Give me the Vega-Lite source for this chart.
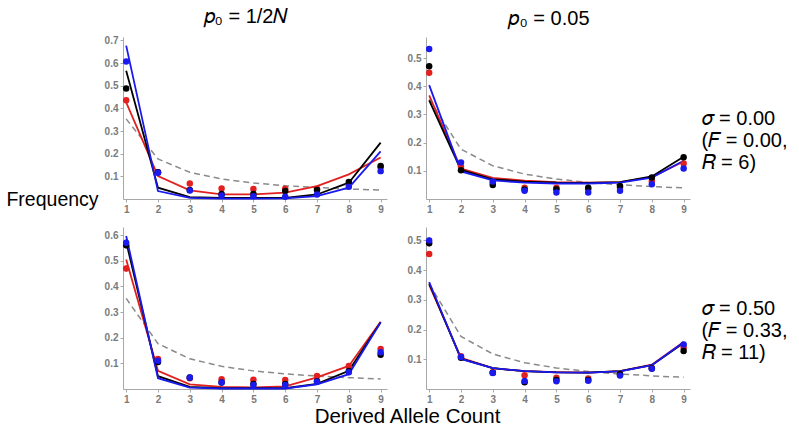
{
  "$schema": "https://vega.github.io/schema/vega-lite/v6.json",
  "padding": {"left": 5, "top": 7, "right": 0, "bottom": 0},
  "config": {
    "view": {"stroke": null},
    "font": "Liberation Sans, DejaVu Sans",
    "title": {"font": "Liberation Sans, DejaVu Sans", "fontSize": 20, "fontWeight": "normal", "color": "#000000"},
    "axis": {"grid": false, "domainColor": "#a8a8a8", "tickColor": "#a8a8a8", "labelColor": "#7a7a7a", "labelFont": "Liberation Sans", "labelFontWeight": "bold", "labelFontSize": 10, "tickSize": 3, "labelPadding": 2,
             "titleFont": "Liberation Sans, DejaVu Sans", "titleFontWeight": "normal", "titleColor": "#000000"}
  },
  "datasets": {
    "neutral": [
      {"k": 1, "v": 0.3535}, {"k": 2, "v": 0.1768}, {"k": 3, "v": 0.1178}, {"k": 4, "v": 0.0884}, {"k": 5, "v": 0.0707},
      {"k": 6, "v": 0.0589}, {"k": 7, "v": 0.0505}, {"k": 8, "v": 0.0442}, {"k": 9, "v": 0.0393}
    ],
    "model": [
      {"p": "a", "s": "red", "k": 1, "v": 0.426}, {"p": "a", "s": "red", "k": 2, "v": 0.101}, {"p": "a", "s": "red", "k": 3, "v": 0.038}, {"p": "a", "s": "red", "k": 4, "v": 0.02}, {"p": "a", "s": "red", "k": 5, "v": 0.02}, {"p": "a", "s": "red", "k": 6, "v": 0.028}, {"p": "a", "s": "red", "k": 7, "v": 0.057}, {"p": "a", "s": "red", "k": 8, "v": 0.109}, {"p": "a", "s": "red", "k": 9, "v": 0.183},
      {"p": "a", "s": "black", "k": 1, "v": 0.566}, {"p": "a", "s": "black", "k": 2, "v": 0.05}, {"p": "a", "s": "black", "k": 3, "v": 0.008}, {"p": "a", "s": "black", "k": 4, "v": 0.005}, {"p": "a", "s": "black", "k": 5, "v": 0.005}, {"p": "a", "s": "black", "k": 6, "v": 0.005}, {"p": "a", "s": "black", "k": 7, "v": 0.02}, {"p": "a", "s": "black", "k": 8, "v": 0.072}, {"p": "a", "s": "black", "k": 9, "v": 0.249},
      {"p": "a", "s": "blue", "k": 1, "v": 0.677}, {"p": "a", "s": "blue", "k": 2, "v": 0.035}, {"p": "a", "s": "blue", "k": 3, "v": 0.005}, {"p": "a", "s": "blue", "k": 4, "v": 0.002}, {"p": "a", "s": "blue", "k": 5, "v": 0.002}, {"p": "a", "s": "blue", "k": 6, "v": 0.003}, {"p": "a", "s": "blue", "k": 7, "v": 0.013}, {"p": "a", "s": "blue", "k": 8, "v": 0.05}, {"p": "a", "s": "blue", "k": 9, "v": 0.21},
      {"p": "b", "s": "red", "k": 1, "v": 0.368}, {"p": "b", "s": "red", "k": 2, "v": 0.108}, {"p": "b", "s": "red", "k": 3, "v": 0.075}, {"p": "b", "s": "red", "k": 4, "v": 0.065}, {"p": "b", "s": "red", "k": 5, "v": 0.06}, {"p": "b", "s": "red", "k": 6, "v": 0.058}, {"p": "b", "s": "red", "k": 7, "v": 0.06}, {"p": "b", "s": "red", "k": 8, "v": 0.078}, {"p": "b", "s": "red", "k": 9, "v": 0.133},
      {"p": "b", "s": "black", "k": 1, "v": 0.35}, {"p": "b", "s": "black", "k": 2, "v": 0.103}, {"p": "b", "s": "black", "k": 3, "v": 0.07}, {"p": "b", "s": "black", "k": 4, "v": 0.062}, {"p": "b", "s": "black", "k": 5, "v": 0.058}, {"p": "b", "s": "black", "k": 6, "v": 0.057}, {"p": "b", "s": "black", "k": 7, "v": 0.06}, {"p": "b", "s": "black", "k": 8, "v": 0.08}, {"p": "b", "s": "black", "k": 9, "v": 0.15},
      {"p": "b", "s": "blue", "k": 1, "v": 0.404}, {"p": "b", "s": "blue", "k": 2, "v": 0.098}, {"p": "b", "s": "blue", "k": 3, "v": 0.066}, {"p": "b", "s": "blue", "k": 4, "v": 0.058}, {"p": "b", "s": "blue", "k": 5, "v": 0.055}, {"p": "b", "s": "blue", "k": 6, "v": 0.055}, {"p": "b", "s": "blue", "k": 7, "v": 0.058}, {"p": "b", "s": "blue", "k": 8, "v": 0.076}, {"p": "b", "s": "blue", "k": 9, "v": 0.136},
      {"p": "c", "s": "red", "k": 1, "v": 0.505}, {"p": "c", "s": "red", "k": 2, "v": 0.071}, {"p": "c", "s": "red", "k": 3, "v": 0.018}, {"p": "c", "s": "red", "k": 4, "v": 0.008}, {"p": "c", "s": "red", "k": 5, "v": 0.006}, {"p": "c", "s": "red", "k": 6, "v": 0.01}, {"p": "c", "s": "red", "k": 7, "v": 0.045}, {"p": "c", "s": "red", "k": 8, "v": 0.09}, {"p": "c", "s": "red", "k": 9, "v": 0.262},
      {"p": "c", "s": "black", "k": 1, "v": 0.574}, {"p": "c", "s": "black", "k": 2, "v": 0.05}, {"p": "c", "s": "black", "k": 3, "v": 0.008}, {"p": "c", "s": "black", "k": 4, "v": 0.003}, {"p": "c", "s": "black", "k": 5, "v": 0.003}, {"p": "c", "s": "black", "k": 6, "v": 0.003}, {"p": "c", "s": "black", "k": 7, "v": 0.02}, {"p": "c", "s": "black", "k": 8, "v": 0.071}, {"p": "c", "s": "black", "k": 9, "v": 0.26},
      {"p": "c", "s": "blue", "k": 1, "v": 0.597}, {"p": "c", "s": "blue", "k": 2, "v": 0.042}, {"p": "c", "s": "blue", "k": 3, "v": 0.005}, {"p": "c", "s": "blue", "k": 4, "v": 0.002}, {"p": "c", "s": "blue", "k": 5, "v": 0.002}, {"p": "c", "s": "blue", "k": 6, "v": 0.002}, {"p": "c", "s": "blue", "k": 7, "v": 0.018}, {"p": "c", "s": "blue", "k": 8, "v": 0.058}, {"p": "c", "s": "blue", "k": 9, "v": 0.26},
      {"p": "d", "s": "red", "k": 1, "v": 0.35}, {"p": "d", "s": "red", "k": 2, "v": 0.105}, {"p": "d", "s": "red", "k": 3, "v": 0.07}, {"p": "d", "s": "red", "k": 4, "v": 0.06}, {"p": "d", "s": "red", "k": 5, "v": 0.057}, {"p": "d", "s": "red", "k": 6, "v": 0.055}, {"p": "d", "s": "red", "k": 7, "v": 0.06}, {"p": "d", "s": "red", "k": 8, "v": 0.082}, {"p": "d", "s": "red", "k": 9, "v": 0.158},
      {"p": "d", "s": "black", "k": 1, "v": 0.355}, {"p": "d", "s": "black", "k": 2, "v": 0.102}, {"p": "d", "s": "black", "k": 3, "v": 0.07}, {"p": "d", "s": "black", "k": 4, "v": 0.06}, {"p": "d", "s": "black", "k": 5, "v": 0.056}, {"p": "d", "s": "black", "k": 6, "v": 0.055}, {"p": "d", "s": "black", "k": 7, "v": 0.06}, {"p": "d", "s": "black", "k": 8, "v": 0.08}, {"p": "d", "s": "black", "k": 9, "v": 0.155},
      {"p": "d", "s": "blue", "k": 1, "v": 0.36}, {"p": "d", "s": "blue", "k": 2, "v": 0.101}, {"p": "d", "s": "blue", "k": 3, "v": 0.07}, {"p": "d", "s": "blue", "k": 4, "v": 0.06}, {"p": "d", "s": "blue", "k": 5, "v": 0.056}, {"p": "d", "s": "blue", "k": 6, "v": 0.055}, {"p": "d", "s": "blue", "k": 7, "v": 0.059}, {"p": "d", "s": "blue", "k": 8, "v": 0.08}, {"p": "d", "s": "blue", "k": 9, "v": 0.157}
    ],
    "obs": [
      {"p": "a", "s": "red", "k": 1, "v": 0.436, "e": 0.01}, {"p": "a", "s": "red", "k": 2, "v": 0.118, "e": 0.007}, {"p": "a", "s": "red", "k": 3, "v": 0.068, "e": 0.006}, {"p": "a", "s": "red", "k": 4, "v": 0.046, "e": 0.006}, {"p": "a", "s": "red", "k": 5, "v": 0.044, "e": 0.006}, {"p": "a", "s": "red", "k": 6, "v": 0.045, "e": 0.006}, {"p": "a", "s": "red", "k": 7, "v": 0.045, "e": 0.006}, {"p": "a", "s": "red", "k": 8, "v": 0.065, "e": 0.006}, {"p": "a", "s": "red", "k": 9, "v": 0.14, "e": 0.008},
      {"p": "a", "s": "black", "k": 1, "v": 0.488, "e": 0.01}, {"p": "a", "s": "black", "k": 2, "v": 0.118, "e": 0.007}, {"p": "a", "s": "black", "k": 3, "v": 0.04, "e": 0.006}, {"p": "a", "s": "black", "k": 4, "v": 0.022, "e": 0.006}, {"p": "a", "s": "black", "k": 5, "v": 0.022, "e": 0.006}, {"p": "a", "s": "black", "k": 6, "v": 0.035, "e": 0.006}, {"p": "a", "s": "black", "k": 7, "v": 0.04, "e": 0.006}, {"p": "a", "s": "black", "k": 8, "v": 0.075, "e": 0.006}, {"p": "a", "s": "black", "k": 9, "v": 0.146, "e": 0.008},
      {"p": "a", "s": "blue", "k": 1, "v": 0.607, "e": 0.01}, {"p": "a", "s": "blue", "k": 2, "v": 0.116, "e": 0.007}, {"p": "a", "s": "blue", "k": 3, "v": 0.038, "e": 0.006}, {"p": "a", "s": "blue", "k": 4, "v": 0.016, "e": 0.006}, {"p": "a", "s": "blue", "k": 5, "v": 0.012, "e": 0.006}, {"p": "a", "s": "blue", "k": 6, "v": 0.01, "e": 0.006}, {"p": "a", "s": "blue", "k": 7, "v": 0.02, "e": 0.006}, {"p": "a", "s": "blue", "k": 8, "v": 0.054, "e": 0.006}, {"p": "a", "s": "blue", "k": 9, "v": 0.123, "e": 0.008},
      {"p": "b", "s": "red", "k": 1, "v": 0.448, "e": 0.01}, {"p": "b", "s": "red", "k": 2, "v": 0.115, "e": 0.007}, {"p": "b", "s": "red", "k": 3, "v": 0.058, "e": 0.006}, {"p": "b", "s": "red", "k": 4, "v": 0.04, "e": 0.006}, {"p": "b", "s": "red", "k": 5, "v": 0.04, "e": 0.006}, {"p": "b", "s": "red", "k": 6, "v": 0.035, "e": 0.006}, {"p": "b", "s": "red", "k": 7, "v": 0.04, "e": 0.006}, {"p": "b", "s": "red", "k": 8, "v": 0.064, "e": 0.006}, {"p": "b", "s": "red", "k": 9, "v": 0.126, "e": 0.008},
      {"p": "b", "s": "black", "k": 1, "v": 0.471, "e": 0.01}, {"p": "b", "s": "black", "k": 2, "v": 0.102, "e": 0.007}, {"p": "b", "s": "black", "k": 3, "v": 0.05, "e": 0.006}, {"p": "b", "s": "black", "k": 4, "v": 0.034, "e": 0.006}, {"p": "b", "s": "black", "k": 5, "v": 0.035, "e": 0.006}, {"p": "b", "s": "black", "k": 6, "v": 0.04, "e": 0.006}, {"p": "b", "s": "black", "k": 7, "v": 0.046, "e": 0.006}, {"p": "b", "s": "black", "k": 8, "v": 0.076, "e": 0.006}, {"p": "b", "s": "black", "k": 9, "v": 0.148, "e": 0.008},
      {"p": "b", "s": "blue", "k": 1, "v": 0.532, "e": 0.01}, {"p": "b", "s": "blue", "k": 2, "v": 0.13, "e": 0.007}, {"p": "b", "s": "blue", "k": 3, "v": 0.062, "e": 0.006}, {"p": "b", "s": "blue", "k": 4, "v": 0.029, "e": 0.006}, {"p": "b", "s": "blue", "k": 5, "v": 0.023, "e": 0.006}, {"p": "b", "s": "blue", "k": 6, "v": 0.023, "e": 0.006}, {"p": "b", "s": "blue", "k": 7, "v": 0.029, "e": 0.006}, {"p": "b", "s": "blue", "k": 8, "v": 0.052, "e": 0.006}, {"p": "b", "s": "blue", "k": 9, "v": 0.108, "e": 0.008},
      {"p": "c", "s": "red", "k": 1, "v": 0.47, "e": 0.012}, {"p": "c", "s": "red", "k": 2, "v": 0.117, "e": 0.007}, {"p": "c", "s": "red", "k": 3, "v": 0.042, "e": 0.006}, {"p": "c", "s": "red", "k": 4, "v": 0.038, "e": 0.006}, {"p": "c", "s": "red", "k": 5, "v": 0.036, "e": 0.006}, {"p": "c", "s": "red", "k": 6, "v": 0.035, "e": 0.006}, {"p": "c", "s": "red", "k": 7, "v": 0.051, "e": 0.006}, {"p": "c", "s": "red", "k": 8, "v": 0.09, "e": 0.006}, {"p": "c", "s": "red", "k": 9, "v": 0.156, "e": 0.008},
      {"p": "c", "s": "black", "k": 1, "v": 0.561, "e": 0.012}, {"p": "c", "s": "black", "k": 2, "v": 0.105, "e": 0.007}, {"p": "c", "s": "black", "k": 3, "v": 0.045, "e": 0.006}, {"p": "c", "s": "black", "k": 4, "v": 0.025, "e": 0.006}, {"p": "c", "s": "black", "k": 5, "v": 0.02, "e": 0.006}, {"p": "c", "s": "black", "k": 6, "v": 0.02, "e": 0.006}, {"p": "c", "s": "black", "k": 7, "v": 0.03, "e": 0.006}, {"p": "c", "s": "black", "k": 8, "v": 0.07, "e": 0.006}, {"p": "c", "s": "black", "k": 9, "v": 0.134, "e": 0.008},
      {"p": "c", "s": "blue", "k": 1, "v": 0.571, "e": 0.012}, {"p": "c", "s": "blue", "k": 2, "v": 0.11, "e": 0.007}, {"p": "c", "s": "blue", "k": 3, "v": 0.045, "e": 0.006}, {"p": "c", "s": "blue", "k": 4, "v": 0.025, "e": 0.006}, {"p": "c", "s": "blue", "k": 5, "v": 0.016, "e": 0.006}, {"p": "c", "s": "blue", "k": 6, "v": 0.016, "e": 0.006}, {"p": "c", "s": "blue", "k": 7, "v": 0.028, "e": 0.006}, {"p": "c", "s": "blue", "k": 8, "v": 0.065, "e": 0.006}, {"p": "c", "s": "blue", "k": 9, "v": 0.143, "e": 0.008},
      {"p": "d", "s": "red", "k": 1, "v": 0.454, "e": 0.01}, {"p": "d", "s": "red", "k": 2, "v": 0.11, "e": 0.007}, {"p": "d", "s": "red", "k": 3, "v": 0.056, "e": 0.006}, {"p": "d", "s": "red", "k": 4, "v": 0.046, "e": 0.006}, {"p": "d", "s": "red", "k": 5, "v": 0.038, "e": 0.006}, {"p": "d", "s": "red", "k": 6, "v": 0.035, "e": 0.006}, {"p": "d", "s": "red", "k": 7, "v": 0.05, "e": 0.006}, {"p": "d", "s": "red", "k": 8, "v": 0.07, "e": 0.006}, {"p": "d", "s": "red", "k": 9, "v": 0.14, "e": 0.008},
      {"p": "d", "s": "black", "k": 1, "v": 0.49, "e": 0.01}, {"p": "d", "s": "black", "k": 2, "v": 0.105, "e": 0.007}, {"p": "d", "s": "black", "k": 3, "v": 0.055, "e": 0.006}, {"p": "d", "s": "black", "k": 4, "v": 0.023, "e": 0.006}, {"p": "d", "s": "black", "k": 5, "v": 0.03, "e": 0.006}, {"p": "d", "s": "black", "k": 6, "v": 0.03, "e": 0.006}, {"p": "d", "s": "black", "k": 7, "v": 0.05, "e": 0.006}, {"p": "d", "s": "black", "k": 8, "v": 0.07, "e": 0.006}, {"p": "d", "s": "black", "k": 9, "v": 0.128, "e": 0.008},
      {"p": "d", "s": "blue", "k": 1, "v": 0.5, "e": 0.01}, {"p": "d", "s": "blue", "k": 2, "v": 0.108, "e": 0.007}, {"p": "d", "s": "blue", "k": 3, "v": 0.054, "e": 0.006}, {"p": "d", "s": "blue", "k": 4, "v": 0.027, "e": 0.006}, {"p": "d", "s": "blue", "k": 5, "v": 0.026, "e": 0.006}, {"p": "d", "s": "blue", "k": 6, "v": 0.028, "e": 0.006}, {"p": "d", "s": "blue", "k": 7, "v": 0.045, "e": 0.006}, {"p": "d", "s": "blue", "k": 8, "v": 0.068, "e": 0.006}, {"p": "d", "s": "blue", "k": 9, "v": 0.15, "e": 0.008}
    ]
  },
  "columns": 2,
  "bounds": "flush",
  "spacing": {"row": 28, "column": 39},
  "concat": [
    {
      "width": 264, "height": 162,
      "title": {"text": "𝑝₀ = 1/2𝑁", "offset": 8, "dx": -9},
      "resolve": {"axis": {"x": "independent", "y": "independent"}},
      "layer": [
        {"data": {"name": "neutral"}, "mark": {"type": "line", "color": "#8a8a8a", "strokeDash": [6, 4], "strokeWidth": 1.5},
         "encoding": {"x": {"field": "k", "type": "quantitative", "scale": {"domain": [0.9, 9.2], "nice": false}, "axis": {"title": null, "values": [1,2,3,4,5,6,7,8,9], "format": "d", "labelOverlap": false}},
                      "y": {"field": "v", "type": "quantitative", "scale": {"domain": [0, 0.715], "nice": false}, "axis": {"values": [0.1,0.2,0.3,0.4,0.5,0.6,0.7], "format": ".1f", "labelOverlap": false,
                            "title": "Frequency", "titleAngle": 0, "titleAlign": "right", "titleBaseline": "middle", "titleY": 162, "titlePadding": 6, "titleFontSize": 19.5}}}},
        {"data": {"name": "model"}, "transform": [{"filter": "datum.p == 'a'"}], "mark": {"type": "line", "strokeWidth": 1.8},
         "encoding": {"x": {"field": "k", "type": "quantitative", "axis": null}, "y": {"field": "v", "type": "quantitative", "axis": null},
                      "color": {"field": "s", "type": "nominal", "scale": {"domain": ["red", "black", "blue"], "range": ["#e32020", "#000000", "#1a1aee"]}, "legend": null}}},
        {"data": {"name": "obs"}, "transform": [{"filter": "datum.p == 'a'"}], "mark": {"type": "errorbar", "thickness": 1.5},
         "encoding": {"x": {"field": "k", "type": "quantitative", "axis": null}, "y": {"field": "v", "type": "quantitative", "axis": null}, "yError": {"field": "e"}, "color": {"field": "s", "type": "nominal", "legend": null}}},
        {"data": {"name": "obs"}, "transform": [{"filter": "datum.p == 'a'"}], "mark": {"type": "circle", "size": 42, "opacity": 1},
         "encoding": {"x": {"field": "k", "type": "quantitative", "axis": null}, "y": {"field": "v", "type": "quantitative", "axis": null}, "color": {"field": "s", "type": "nominal", "legend": null}}}
      ]
    },
    {
      "width": 264, "height": 162,
      "title": {"text": "𝑝₀ = 0.05", "offset": 8, "dx": -9},
      "resolve": {"axis": {"x": "independent", "y": "independent"}},
      "layer": [
        {"data": {"name": "neutral"}, "mark": {"type": "line", "color": "#8a8a8a", "strokeDash": [6, 4], "strokeWidth": 1.5},
         "encoding": {"x": {"field": "k", "type": "quantitative", "scale": {"domain": [0.9, 9.2], "nice": false}, "axis": {"title": null, "values": [1,2,3,4,5,6,7,8,9], "format": "d", "labelOverlap": false}},
                      "y": {"field": "v", "type": "quantitative", "scale": {"domain": [0, 0.575], "nice": false}, "axis": {"title": null, "values": [0.1,0.2,0.3,0.4,0.5], "format": ".1f", "labelOverlap": false}}}},
        {"data": {"name": "model"}, "transform": [{"filter": "datum.p == 'b'"}], "mark": {"type": "line", "strokeWidth": 1.8},
         "encoding": {"x": {"field": "k", "type": "quantitative", "axis": null}, "y": {"field": "v", "type": "quantitative", "axis": null},
                      "color": {"field": "s", "type": "nominal", "scale": {"domain": ["red", "black", "blue"], "range": ["#e32020", "#000000", "#1a1aee"]}, "legend": null}}},
        {"data": {"name": "obs"}, "transform": [{"filter": "datum.p == 'b'"}], "mark": {"type": "errorbar", "thickness": 1.5},
         "encoding": {"x": {"field": "k", "type": "quantitative", "axis": null}, "y": {"field": "v", "type": "quantitative", "axis": null}, "yError": {"field": "e"}, "color": {"field": "s", "type": "nominal", "legend": null}}},
        {"data": {"name": "obs"}, "transform": [{"filter": "datum.p == 'b'"}], "mark": {"type": "circle", "size": 42, "opacity": 1},
         "encoding": {"x": {"field": "k", "type": "quantitative", "axis": null},
                      "y": {"field": "v", "type": "quantitative", "axis": {"orient": "right", "labels": false, "ticks": false, "domain": false, "title": ["𝜎 = 0.00", "(𝐹 = 0.00,", "𝑅 = 6)"],
                            "titleAngle": 0, "titleAlign": "left", "titleBaseline": "middle", "titleX": 11, "titleY": 81, "titleFontSize": 20, "titleLineHeight": 22}},
                      "color": {"field": "s", "type": "nominal", "legend": null}}}
      ]
    },
    {
      "width": 264, "height": 162,
      "resolve": {"axis": {"x": "independent", "y": "independent"}},
      "layer": [
        {"data": {"name": "neutral"}, "mark": {"type": "line", "color": "#8a8a8a", "strokeDash": [6, 4], "strokeWidth": 1.5},
         "encoding": {"x": {"field": "k", "type": "quantitative", "scale": {"domain": [0.9, 9.2], "nice": false}, "axis": {"values": [1,2,3,4,5,6,7,8,9], "format": "d", "labelOverlap": false,
                            "title": "Derived Allele Count", "titleX": 284, "titleAlign": "center", "titleBaseline": "top", "titlePadding": 2, "titleFontSize": 20.5}},
                      "y": {"field": "v", "type": "quantitative", "scale": {"domain": [0, 0.632], "nice": false}, "axis": {"title": null, "values": [0.1,0.2,0.3,0.4,0.5,0.6], "format": ".1f", "labelOverlap": false}}}},
        {"data": {"name": "model"}, "transform": [{"filter": "datum.p == 'c'"}], "mark": {"type": "line", "strokeWidth": 1.8},
         "encoding": {"x": {"field": "k", "type": "quantitative", "axis": null}, "y": {"field": "v", "type": "quantitative", "axis": null},
                      "color": {"field": "s", "type": "nominal", "scale": {"domain": ["red", "black", "blue"], "range": ["#e32020", "#000000", "#1a1aee"]}, "legend": null}}},
        {"data": {"name": "obs"}, "transform": [{"filter": "datum.p == 'c'"}], "mark": {"type": "errorbar", "thickness": 1.5},
         "encoding": {"x": {"field": "k", "type": "quantitative", "axis": null}, "y": {"field": "v", "type": "quantitative", "axis": null}, "yError": {"field": "e"}, "color": {"field": "s", "type": "nominal", "legend": null}}},
        {"data": {"name": "obs"}, "transform": [{"filter": "datum.p == 'c'"}], "mark": {"type": "circle", "size": 42, "opacity": 1},
         "encoding": {"x": {"field": "k", "type": "quantitative", "axis": null}, "y": {"field": "v", "type": "quantitative", "axis": null}, "color": {"field": "s", "type": "nominal", "legend": null}}}
      ]
    },
    {
      "width": 264, "height": 162,
      "resolve": {"axis": {"x": "independent", "y": "independent"}},
      "layer": [
        {"data": {"name": "neutral"}, "mark": {"type": "line", "color": "#8a8a8a", "strokeDash": [6, 4], "strokeWidth": 1.5},
         "encoding": {"x": {"field": "k", "type": "quantitative", "scale": {"domain": [0.9, 9.2], "nice": false}, "axis": {"title": null, "values": [1,2,3,4,5,6,7,8,9], "format": "d", "labelOverlap": false}},
                      "y": {"field": "v", "type": "quantitative", "scale": {"domain": [0, 0.545], "nice": false}, "axis": {"title": null, "values": [0.1,0.2,0.3,0.4,0.5], "format": ".1f", "labelOverlap": false}}}},
        {"data": {"name": "model"}, "transform": [{"filter": "datum.p == 'd'"}], "mark": {"type": "line", "strokeWidth": 1.8},
         "encoding": {"x": {"field": "k", "type": "quantitative", "axis": null}, "y": {"field": "v", "type": "quantitative", "axis": null},
                      "color": {"field": "s", "type": "nominal", "scale": {"domain": ["red", "black", "blue"], "range": ["#e32020", "#000000", "#1a1aee"]}, "legend": null}}},
        {"data": {"name": "obs"}, "transform": [{"filter": "datum.p == 'd'"}], "mark": {"type": "errorbar", "thickness": 1.5},
         "encoding": {"x": {"field": "k", "type": "quantitative", "axis": null}, "y": {"field": "v", "type": "quantitative", "axis": null}, "yError": {"field": "e"}, "color": {"field": "s", "type": "nominal", "legend": null}}},
        {"data": {"name": "obs"}, "transform": [{"filter": "datum.p == 'd'"}], "mark": {"type": "circle", "size": 42, "opacity": 1},
         "encoding": {"x": {"field": "k", "type": "quantitative", "axis": null},
                      "y": {"field": "v", "type": "quantitative", "axis": {"orient": "right", "labels": false, "ticks": false, "domain": false, "title": ["𝜎 = 0.50", "(𝐹 = 0.33,", "𝑅 = 11)"],
                            "titleAngle": 0, "titleAlign": "left", "titleBaseline": "middle", "titleX": 11, "titleY": 81, "titleFontSize": 20, "titleLineHeight": 22}},
                      "color": {"field": "s", "type": "nominal", "legend": null}}}
      ]
    }
  ]
}
